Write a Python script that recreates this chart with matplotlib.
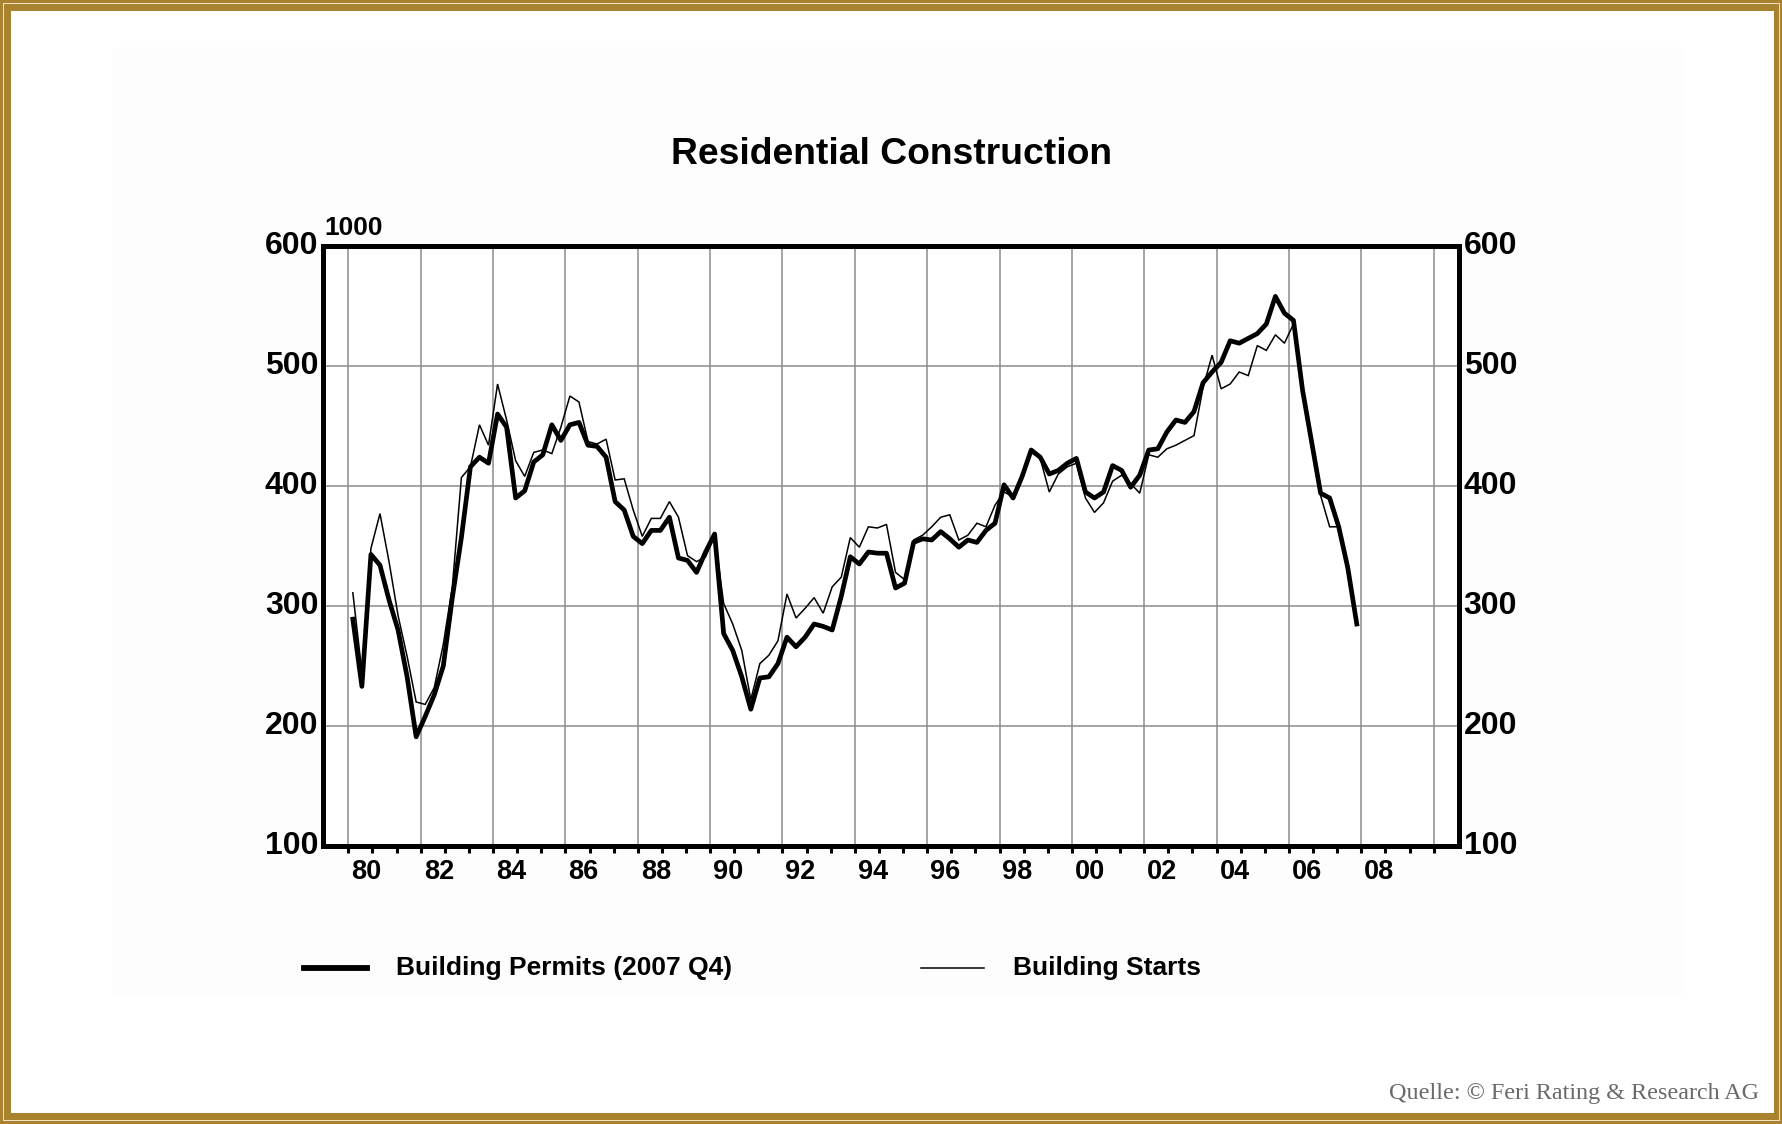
import matplotlib
matplotlib.use("Agg")
import matplotlib.pyplot as plt
from matplotlib.patches import Rectangle
import numpy as np

# ---------------- data (quarterly, 1980 Q1 .. 2007 Q4, in 1000) ----------------
start_year = 1980
permits = [
    289, 233, 343, 334,   # 1980
    305, 280, 241, 191,   # 1981
    208, 226, 250, 307,   # 1982
    357, 416, 424, 419,   # 1983
    460, 449, 390, 396,   # 1984
    420, 426, 451, 438,   # 1985
    451, 453, 434, 433,   # 1986
    424, 387, 380, 358,   # 1987
    352, 363, 363, 374,   # 1988
    340, 338, 328, 345,   # 1989
    360, 277, 263, 241,   # 1990
    214, 240, 241, 252,   # 1991
    274, 266, 274, 285,   # 1992
    283, 280, 308, 341,   # 1993
    335, 345, 344, 344,   # 1994
    315, 319, 353, 356,   # 1995
    355, 362, 356, 349,   # 1996
    355, 353, 363, 369,   # 1997
    401, 390, 408, 430,   # 1998
    424, 410, 413, 419,   # 1999
    423, 395, 390, 395,   # 2000
    417, 413, 399, 409,   # 2001
    430, 431, 445, 455,   # 2002
    453, 462, 486, 495,   # 2003
    503, 521, 519, 523,   # 2004
    527, 535, 558, 544,   # 2005
    538, 480, 437, 394,   # 2006
    390, 366, 332, 285,   # 2007
]
starts = [
    311, 245, 348, 377,   # 1980
    337, 292, 258, 220,   # 1981
    218, 232, 268, 316,   # 1982
    407, 416, 451, 434,   # 1983
    485, 455, 421, 408,   # 1984
    428, 430, 427, 449,   # 1985
    475, 470, 437, 435,   # 1986
    439, 405, 406, 380,   # 1987
    358, 373, 373, 387,   # 1988
    374, 342, 337, 341,   # 1989
    359, 302, 285, 263,   # 1990
    222, 252, 259, 271,   # 1991
    310, 290, 298, 307,   # 1992
    294, 316, 324, 357,   # 1993
    349, 366, 365, 368,   # 1994
    328, 322, 355, 359,   # 1995
    366, 374, 376, 355,   # 1996
    359, 369, 366, 384,   # 1997
    395, 391, 406, 428,   # 1998
    423, 395, 410, 416,   # 1999
    419, 390, 378, 386,   # 2000
    404, 409, 402, 394,   # 2001
    426, 424, 431, 434,   # 2002
    438, 442, 482, 509,   # 2003
    481, 485, 495, 492,   # 2004
    517, 513, 526, 519,   # 2005
    535, 482, 437, 392,   # 2006
    366, 366, 332, 285,   # 2007
]
y_ticks = [100, 200, 300, 400, 500, 600]
x_label_years = list(range(1980, 2009, 2))
x_tick_labels = [f"{y % 100:02d}" for y in x_label_years]

title = "Residential Construction"
unit_label = "1000"
legend_permits = "Building Permits (2007 Q4)"
legend_starts = "Building Starts"
source = "Quelle: \u00a9 Feri Rating & Research AG"

# ---------------- figure ----------------
W, H = 1783, 1124
DPI = 100
fig = plt.figure(figsize=(W / DPI, H / DPI), dpi=DPI)
fig.patch.set_facecolor("white")

def px_rect(x0, y0, x1, y1, **kw):
    # rectangle given in pixel coords (origin top-left)
    r = Rectangle((x0 / W, 1 - y1 / H), (x1 - x0) / W, (y1 - y0) / H,
                  transform=fig.transFigure, zorder=-10, **kw)
    fig.patches.append(r)

gold = "#A9822F"
px_rect(0, 0, W, H, facecolor=gold, edgecolor="none")
px_rect(3, 3, W - 3, H - 3, facecolor="#EFE2C0", edgecolor="none")
px_rect(4, 4, W - 4, H - 4, facecolor=gold, edgecolor="none")
px_rect(11, 11, W - 9, H - 11, facecolor="white", edgecolor="none")
px_rect(113, 47, 1683, 995, facecolor="#FDFDFD", edgecolor="none")

# axes placement in pixels
L, R, T, B = 323, 1459, 246, 846
ax = fig.add_axes([L / W, 1 - B / H, (R - L) / W, (B - T) / H])
ax.set_zorder(5)
ax.set_facecolor("white")

x = start_year + 0.125 + 0.25 * np.arange(len(permits))
ax.plot(x, starts, color="black", lw=1.1, zorder=3, solid_joinstyle="miter")
ax.plot(x, permits, color="black", lw=3.4, zorder=4, solid_joinstyle="round")

ax.set_xlim(1979.30, 2010.70)
ax.set_ylim(100, 600)

# grid
for yy in y_ticks[1:-1]:
    ax.axhline(yy, color="#8C8C8C", lw=1.1, zorder=1)
for xx in range(1980, 2011, 2):
    ax.axvline(xx, color="#8C8C8C", lw=1.1, zorder=1)

for s in ax.spines.values():
    s.set_linewidth(3.6)
    s.set_color("black")
    s.set_zorder(5)

# x ticks: small marks every 2/3 year, labels centred in odd years
ax.set_xticks(np.arange(1980, 2010.01, 2 / 3))
ax.set_xticklabels([])
ax.tick_params(axis="x", which="major", direction="out", length=5, width=2.2,
               color="black")
for yr, lab in zip(x_label_years, x_tick_labels):
    ax.text(yr + 0.5, -0.021, lab, transform=ax.get_xaxis_transform(),
            ha="center", va="top", fontsize=19.5, fontweight="bold",
            family="Liberation Sans")

ax.set_yticks(y_ticks)
ax.tick_params(axis="y", which="major", length=0, left=False, right=False,
               labelleft=False, labelright=False)
for yy in y_ticks:
    ax.text(-0.004, yy, str(yy), transform=ax.get_yaxis_transform(),
            ha="right", va="center", fontsize=23, fontweight="bold",
            family="Liberation Sans")
    ax.text(1.004, yy, str(yy), transform=ax.get_yaxis_transform(),
            ha="left", va="center", fontsize=23, fontweight="bold",
            family="Liberation Sans")

ax.text(0.001, 1.010, unit_label, transform=ax.transAxes, ha="left",
        va="bottom", fontsize=19, fontweight="bold", family="Liberation Sans")

# title
fig.text(892 / W, 1 - 155 / H, title, ha="center", va="center", fontsize=26.8,
         fontweight="bold", family="Liberation Sans")

# legend (manual, in pixel positions)
yl = 1 - 968 / H
fig.add_artist(plt.Line2D([304 / W, 367 / W], [yl, yl], color="black", lw=4.2,
                          transform=fig.transFigure))
fig.text(396 / W, yl, legend_permits, ha="left", va="center", fontsize=19,
         fontweight="bold", family="Liberation Sans")
fig.add_artist(plt.Line2D([921 / W, 984 / W], [yl, yl], color="black", lw=1.1,
                          transform=fig.transFigure))
fig.text(1013 / W, yl, legend_starts, ha="left", va="center", fontsize=19,
         fontweight="bold", family="Liberation Sans")

# source
fig.text(1759 / W, 1 - 1093 / H, source, ha="right", va="center",
         fontsize=17.4, color="#6A6A6A", family="Liberation Serif")

fig.savefig("out.png", dpi=DPI)
